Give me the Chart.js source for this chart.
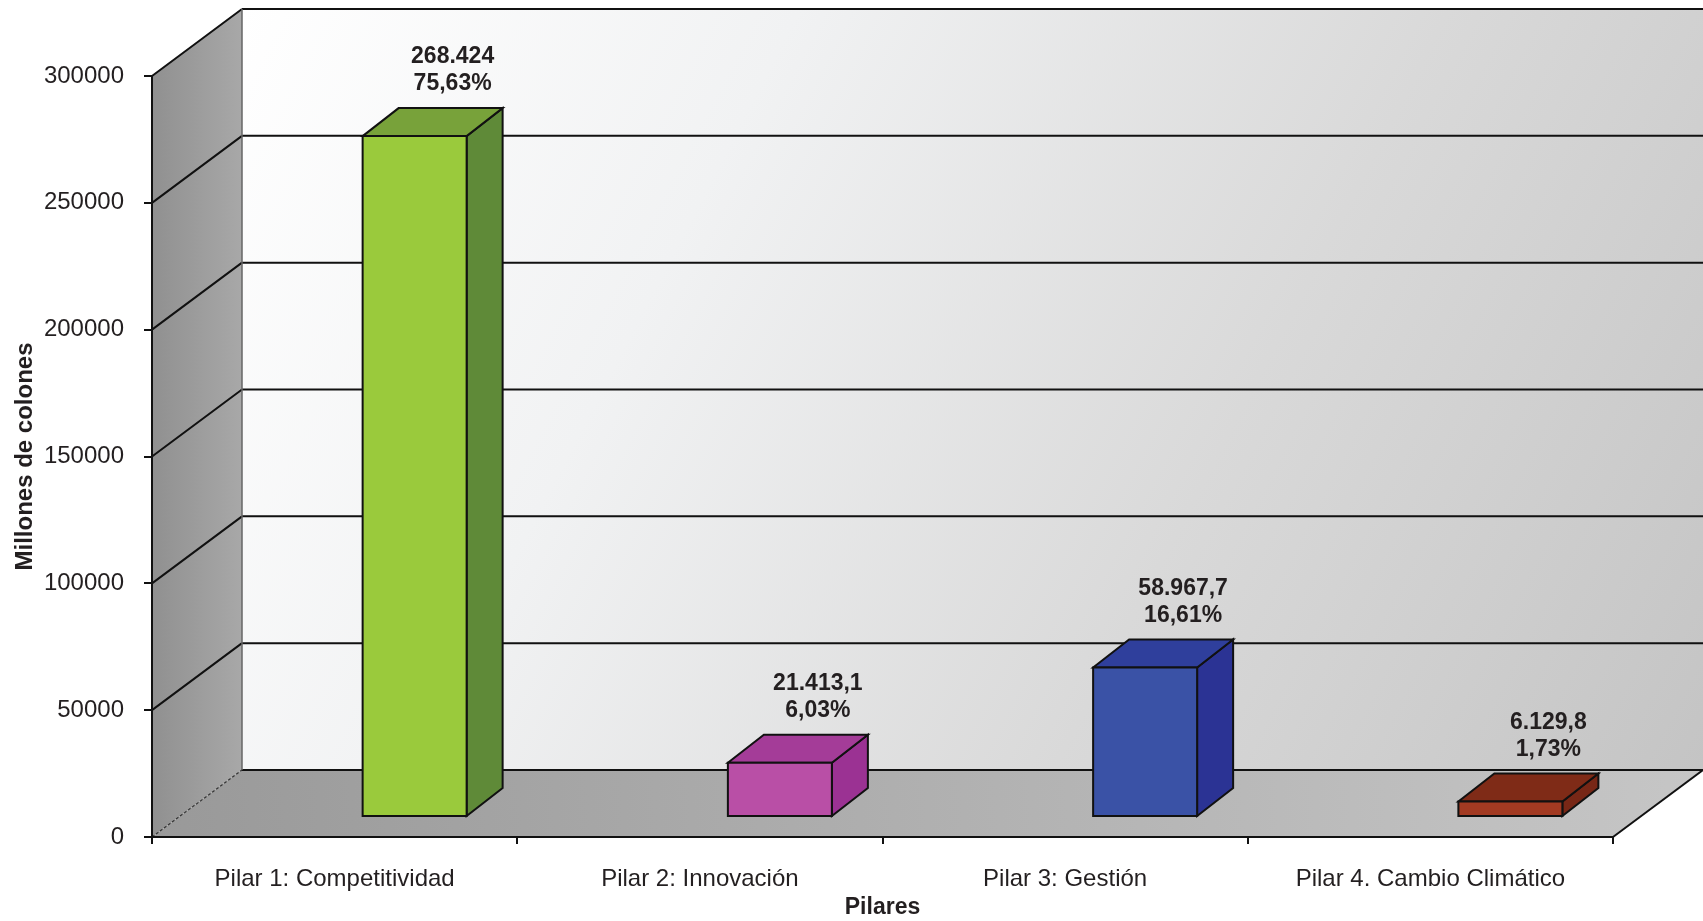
<!DOCTYPE html>
<html>
<head>
<meta charset="utf-8">
<script src="https://cdn.jsdelivr.net/npm/chart.js@4.4.1/dist/chart.umd.min.js"></script>
<style>
  html, body { margin: 0; padding: 0; background: #ffffff; }
  #wrap { width: 1703px; height: 921px; }
</style>
</head>
<body>
<div id="wrap"><canvas id="c" width="1703" height="921"></canvas></div>
<script>
// ---- data ----
const categories = ['Pilar 1: Competitividad', 'Pilar 2: Innovación', 'Pilar 3: Gestión', 'Pilar 4. Cambio Climático'];
const montos = [268424, 21413.1, 58967.7, 6129.8];
const montoTexto = ['268.424', '21.413,1', '58.967,7', '6.129,8'];
const porcentajeTexto = ['75,63%', '6,03%', '16,61%', '1,73%'];
const yMin = 0, yMax = 300000, yStep = 50000;

// ---- styles ----
const frontColors = ['#9aca3c', '#b94fa6', '#3a52a6', '#a23a22'];
const topColors   = ['#78a23a', '#a43c98', '#2f3f9c', '#7f2b17'];
const sideColors  = ['#5f8a38', '#9b3293', '#2b3394', '#772716'];
const INK = '#231f20';
const FONT = "'Liberation Sans', Arial, sans-serif";
Chart.defaults.font.family = FONT;

// 3D geometry (style constants)
const WALL_DX = 90, WALL_DY = 67;     // depth of the floor / walls
const BAR_SHIFT_X = 80, BAR_SHIFT_Y = 20; // bar front face offset from front plane
const BAR_DX = 36, BAR_DY = 28;       // bar depth

const threeD = {
  id: 'threeD',
  beforeDraw(chart) {
    const ctx = chart.ctx;
    const ys = chart.scales.y;
    const a = chart.chartArea;
    const L = a.left, R = a.right;
    const y0 = ys.getPixelForValue(yMin);
    const yT = ys.getPixelForValue(yMax);
    ctx.save();
    // back wall
    let g = ctx.createLinearGradient(L + WALL_DX, yT - WALL_DY, R + WALL_DX, y0 - WALL_DY);
    g.addColorStop(0, '#ffffff');
    g.addColorStop(0.3, '#f1f2f3');
    g.addColorStop(0.65, '#d9d9d9');
    g.addColorStop(1, '#c4c4c4');
    ctx.fillStyle = g;
    ctx.fillRect(L + WALL_DX, yT - WALL_DY, R - L, y0 - yT);
    // left wall
    g = ctx.createLinearGradient(L, 0, L + WALL_DX, 0);
    g.addColorStop(0, '#909090');
    g.addColorStop(1, '#a8a8a8');
    ctx.fillStyle = g;
    ctx.beginPath();
    ctx.moveTo(L, y0); ctx.lineTo(L, yT); ctx.lineTo(L + WALL_DX, yT - WALL_DY); ctx.lineTo(L + WALL_DX, y0 - WALL_DY);
    ctx.closePath(); ctx.fill();
    // floor
    g = ctx.createLinearGradient(L, y0, R + WALL_DX, y0 - WALL_DY);
    g.addColorStop(0, '#999999');
    g.addColorStop(0.5, '#b0b0b0');
    g.addColorStop(1, '#c6c6c6');
    ctx.fillStyle = g;
    ctx.beginPath();
    ctx.moveTo(L, y0); ctx.lineTo(R, y0); ctx.lineTo(R + WALL_DX, y0 - WALL_DY); ctx.lineTo(L + WALL_DX, y0 - WALL_DY);
    ctx.closePath(); ctx.fill();

    // grid lines on back wall + diagonals on left wall
    ctx.strokeStyle = '#111111';
    ctx.lineWidth = 2;
    ys.ticks.forEach(t => {
      const py = ys.getPixelForValue(t.value);
      ctx.beginPath();
      if (t.value !== yMin) {
        ctx.moveTo(L, py);
        ctx.lineTo(L + WALL_DX, py - WALL_DY);
      }
      ctx.moveTo(L + WALL_DX, py - WALL_DY);
      ctx.lineTo(R + WALL_DX, py - WALL_DY);
      ctx.stroke();
    });
    // back wall left edge
    ctx.beginPath();
    ctx.moveTo(L + WALL_DX, yT - WALL_DY); ctx.lineTo(L + WALL_DX, y0 - WALL_DY);
    ctx.lineWidth = 1.5; ctx.strokeStyle = '#666';
    ctx.stroke();
    // floor / left wall junction
    ctx.beginPath();
    ctx.setLineDash([3, 2]);
    ctx.lineWidth = 1.2; ctx.strokeStyle = '#333';
    ctx.moveTo(L, y0); ctx.lineTo(L + WALL_DX, y0 - WALL_DY);
    ctx.stroke();
    ctx.setLineDash([]);
    // floor right edge
    ctx.beginPath();
    ctx.lineWidth = 2; ctx.strokeStyle = '#111';
    ctx.moveTo(R, y0); ctx.lineTo(R + WALL_DX, y0 - WALL_DY);
    ctx.stroke();
    ctx.restore();
  },
  afterDatasetsDraw(chart) {
    const ctx = chart.ctx;
    const meta = chart.getDatasetMeta(0);
    ctx.save();
    ctx.lineJoin = 'miter';
    meta.data.forEach((el, i) => {
      const p = el.getProps(['x', 'y', 'base', 'width'], true);
      const cx = p.x + BAR_SHIFT_X;
      const l = cx - p.width / 2, r = cx + p.width / 2;
      const t = p.y - BAR_SHIFT_Y, b = p.base - BAR_SHIFT_Y;
      ctx.lineWidth = 2;
      ctx.strokeStyle = '#111';
      // side
      ctx.fillStyle = sideColors[i];
      ctx.beginPath();
      ctx.moveTo(r, t); ctx.lineTo(r + BAR_DX, t - BAR_DY); ctx.lineTo(r + BAR_DX, b - BAR_DY); ctx.lineTo(r, b);
      ctx.closePath(); ctx.fill(); ctx.stroke();
      // top
      ctx.fillStyle = topColors[i];
      ctx.beginPath();
      ctx.moveTo(l, t); ctx.lineTo(l + BAR_DX, t - BAR_DY); ctx.lineTo(r + BAR_DX, t - BAR_DY); ctx.lineTo(r, t);
      ctx.closePath(); ctx.fill(); ctx.stroke();
      // front
      ctx.fillStyle = frontColors[i];
      ctx.beginPath();
      ctx.rect(l, t, r - l, b - t);
      ctx.fill(); ctx.stroke();
      // labels
      ctx.fillStyle = INK;
      ctx.font = 'bold 23px ' + FONT;
      ctx.textAlign = 'center';
      ctx.textBaseline = 'middle';
      const lx = cx + 38;
      const ty = t - BAR_DY;
      ctx.fillText(montoTexto[i], lx, ty - 51);
      ctx.fillText(porcentajeTexto[i], lx, ty - 24);
    });
    ctx.restore();
  }
};

new Chart(document.getElementById('c'), {
  type: 'bar',
  data: {
    labels: categories,
    datasets: [{
      data: montos,
      backgroundColor: 'rgba(0,0,0,0)',
      borderWidth: 0,
      barThickness: 104
    }]
  },
  options: {
    responsive: false,
    animation: false,
    devicePixelRatio: 1,
    layout: { padding: { top: 76, right: 90, left: 0, bottom: 0 } },
    plugins: { legend: { display: false }, tooltip: { enabled: false } },
    scales: {
      x: {
        offset: true,
        grid: { offset: true, drawOnChartArea: false, drawTicks: true, tickLength: 7, color: '#111', lineWidth: 2 },
        border: { display: true, color: '#111', width: 2 },
        ticks: { font: { size: 24 }, color: INK, padding: 21, maxRotation: 0, autoSkip: false },
        title: { display: true, text: 'Pilares', font: { size: 23, weight: 'bold' }, color: INK, padding: 0 },
        afterFit(s) { s.height = 84; }
      },
      y: {
        min: yMin, max: yMax,
        ticks: { stepSize: yStep, font: { size: 24 }, color: INK, padding: 20, callback: v => String(v) },
        grid: { drawOnChartArea: false, drawTicks: true, tickLength: 8, color: '#111', lineWidth: 2 },
        border: { display: true, color: '#111', width: 2 },
        title: { display: true, text: 'Millones de colones', font: { size: 24, weight: 'bold' }, color: INK, padding: { top: 11, bottom: 0 } },
        afterFit(s) { s.width = 152; }
      }
    }
  },
  plugins: [threeD]
});
</script>
</body>
</html>
